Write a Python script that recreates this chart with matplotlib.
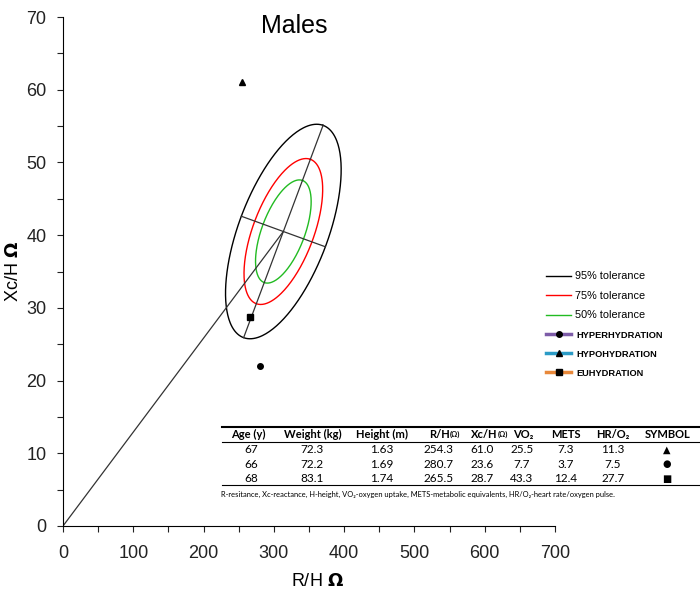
import numpy as np
import matplotlib
matplotlib.use("Agg")
import matplotlib.pyplot as plt
from matplotlib.lines import Line2D

plt.rcParams['font.family'] = ['Liberation Sans', 'DejaVu Sans']

# BIVA reference ellipse (males)
center = np.array([313.5, 40.5])
major_tip = np.array([370.0, 55.1])   # end of long axis of the 95% ellipse
minor_tip = np.array([373.3, 38.4])   # end of short axis of the 95% ellipse
levels = [0.95, 0.75, 0.50]
level_labels = ["95% tolerance", "75% tolerance", "50% tolerance"]
level_colors = ["black", "red", "#22bb22"]

# subjects (R/H, Xc/H) as plotted
subj_rh = [280.7, 254.3, 265.5]
subj_xch = [22.0, 61.0, 28.7]
subj_markers = ["o", "^", "s"]
subj_labels = ["HYPERHYDRATION", "HYPOHYDRATION", "EUHYDRATION"]
subj_colors = ["#7d5ca8", "#2b9bc6", "#e8883a"]

# table
headers = ["Age (y)", "Weight (kg)", "Height (m)", "R/H", "Xc/H", "VO\u2082", "METS", "HR/O\u2082", "SYMBOL"]
age = ["67", "66", "68"]
weight = ["72.3", "72.2", "83.1"]
height = ["1.63", "1.69", "1.74"]
rh = ["254.3", "280.7", "265.5"]
xch = ["61.0", "23.6", "28.7"]
vo2 = ["25.5", "7.7", "43.3"]
mets = ["7.3", "3.7", "12.4"]
hro2 = ["11.3", "7.5", "27.7"]
symbols = ["\u25b2", "\u25cf", "\u25a0"]
footnote = ("R-resitance, Xc-reactance, H-height, VO\u2082-oxygen uptake, "
            "METS-metabolic equivalents, HR/O\u2082-heart rate/oxygen pulse.")

W, H = 700, 590
fig = plt.figure(figsize=(7, 5.9), dpi=100)
ax = fig.add_axes([63 / W, 1 - 526 / H, (555 - 63) / W, (526 - 17) / H])

# ellipses: scale the 95% one by chi-square radius ratio
A = major_tip - center
B = minor_tip - center
t = np.linspace(0, 2 * np.pi, 300)
r95 = np.sqrt(-2 * np.log(0.05))
for p, col in zip(levels, level_colors):
    k = np.sqrt(-2 * np.log(1 - p)) / r95
    ex = center[0] + k * (np.cos(t) * A[0] + np.sin(t) * B[0])
    ey = center[1] + k * (np.cos(t) * A[1] + np.sin(t) * B[1])
    ax.plot(ex, ey, color=col, lw=1.0)

# axes of the ellipse and the vector from the origin
ax.plot([center[0] - A[0], center[0] + A[0]], [center[1] - A[1], center[1] + A[1]], color="#333333", lw=0.9)
ax.plot([center[0] - B[0], center[0] + B[0]], [center[1] - B[1], center[1] + B[1]], color="#333333", lw=0.9)
ax.plot([0, center[0]], [0, center[1]], color="#333333", lw=0.9)

for x, y, m in zip(subj_rh, subj_xch, subj_markers):
    ax.plot(x, y, marker=m, color="black", ms=4, ls="none")

ax.set_xlim(0, 700)
ax.set_ylim(0, 70)
ax.set_xticks(np.arange(0, 701, 50), minor=False)
ax.set_xticklabels([str(v) if v % 100 == 0 else "" for v in range(0, 701, 50)])
ax.set_yticks(np.arange(0, 71, 5))
ax.set_yticklabels([str(v) if v % 10 == 0 else "" for v in range(0, 71, 5)])
ax.tick_params(labelsize=13, length=4, width=0.8, colors="#222222", pad=8)
ax.tick_params(axis="x", pad=10)
ax.spines["top"].set_visible(False)
ax.spines["right"].set_visible(False)
ax.set_xlabel(r"R/H $\mathbf{\Omega}$", fontsize=13)
ax.xaxis.set_label_coords(0.517, -0.093)
ax.set_ylabel(r"Xc/H $\mathbf{\Omega}$", fontsize=13, labelpad=3)
ax.text(0.47, 0.982, "Males", transform=ax.transAxes, ha="center", va="center", fontsize=18)

# legend
handles = [Line2D([], [], color=c, lw=1.0) for c in level_colors]
handles += [Line2D([], [], color=c, lw=2.5, marker=m, mfc="black", mec="black", ms=4)
            for c, m in zip(subj_colors, subj_markers)]
leg = ax.legend(handles, level_labels + subj_labels, loc="upper left",
                bbox_to_anchor=(541 / W, 1 - 266 / H), bbox_transform=fig.transFigure,
                frameon=False, fontsize=7.8, handlelength=2.3, handletextpad=0.3,
                labelspacing=0.88, borderpad=0)
for txt in leg.get_texts()[3:]:
    txt.set_fontweight("bold")
    txt.set_fontsize(6.7)
    txt.set_x(2)

# table drawn with figure text
def fx(px):
    return px / W

def fy(py):
    return 1 - py / H

tf = ['Lato', 'DejaVu Sans']
head_x = [248.3, 312.5, 382.5, 440.0, 484.0, 523.0, 565.8, 613.3, 667.5]
cell_x = [251.0, 311.7, 381.7, 438.7, 481.7, 521.7, 565.5, 613.0, 666.7]
for hx, h in zip(head_x, headers):
    fig.text(fx(hx), fy(434.3), h, ha="center", va="center", fontsize=8, fontweight="bold", family=tf)
for hx in [450.0, 497.7]:
    fig.text(fx(hx), fy(434.3), "(\u03a9)", ha="left", va="center", fontsize=5.5, fontweight="bold", family=tf)

rows = list(zip(age, weight, height, rh, xch, vo2, mets, hro2, symbols))
row_y = [449.3, 464.3, 479.0]
for ry, row in zip(row_y, rows):
    for cx, val in zip(cell_x, row):
        if val in symbols:
            fig.text(fx(cx), fy(ry), val, ha="center", va="center", fontsize=7, family=['DejaVu Sans'])
        else:
            fig.text(fx(cx), fy(ry), val, ha="center", va="center", fontsize=8.5, family=tf)

for ly, lw in [(426.7, 1.5), (441.7, 0.8), (485.0, 0.8)]:
    fig.add_artist(Line2D([fx(222), fx(700)], [fy(ly), fy(ly)], color="black", lw=lw))
fig.text(fx(221), fy(494), footnote, ha="left", va="center", fontsize=5.4, family=tf)

fig.savefig("out.png", dpi=100)
